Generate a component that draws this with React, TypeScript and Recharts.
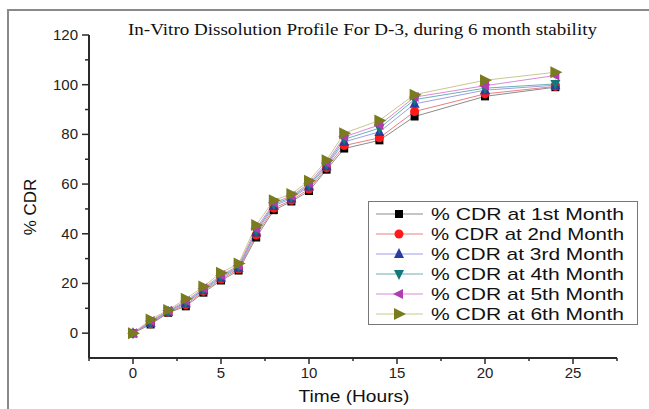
import React from 'react';
import { LineChart, Line, XAxis, YAxis, Label } from 'recharts';

const hours = [0, 1, 2, 3, 4, 5, 6, 7, 8, 9, 10, 11, 12, 14, 16, 20, 24];
const month1 = [0, 3.5, 8.2, 10.8, 16.3, 21.2, 25.2, 38.5, 49.5, 53, 57.2, 65.8, 74.3, 77.6, 87.2, 95.3, 99];
const month2 = [0, 3.8, 8.4, 11.4, 16.8, 21.8, 25.8, 39.5, 50.3, 53.5, 58, 66.5, 75.5, 78.6, 89.2, 96.3, 99.3];
const month3 = [0, 4.2, 8.6, 12, 17.3, 22.3, 26.3, 40.5, 51.2, 54.2, 59, 67.2, 77, 81, 92.3, 97.8, 99.8];
const month4 = [0, 4.5, 8.8, 12.4, 17.6, 22.8, 26.7, 41.2, 51.8, 54.7, 59.6, 67.8, 78, 82.5, 94, 98.6, 100.3];
const month5 = [0, 4.9, 9, 12.9, 18.1, 23.3, 27.2, 42, 52.5, 55.2, 60.3, 68.5, 79, 83.8, 95, 99.6, 103.7];
const month6 = [0, 5.5, 9.3, 13.8, 18.8, 24.3, 28, 43.5, 53.5, 56, 61.3, 69.6, 80.5, 85.6, 96, 101.8, 105];

const xTicks = [-2.5, 0, 2.5, 5, 7.5, 10, 12.5, 15, 17.5, 20, 22.5, 25, 27.5];
const yTicks = [0, 10, 20, 30, 40, 50, 60, 70, 80, 90, 100, 110, 120];

const series = [
  { key: 'm1', name: '% CDR at 1st Month', values: month1, line: '#8c8c8c', fill: '#000000', shape: 'square' },
  { key: 'm2', name: '% CDR at 2nd Month', values: month2, line: '#e98080', fill: '#ff1a1a', shape: 'circle' },
  { key: 'm3', name: '% CDR at 3rd Month', values: month3, line: '#9aa0e8', fill: '#2e3b9e', shape: 'up' },
  { key: 'm4', name: '% CDR at 4th Month', values: month4, line: '#6fb0b0', fill: '#127878', shape: 'down' },
  { key: 'm5', name: '% CDR at 5th Month', values: month5, line: '#d98ad9', fill: '#b03cb0', shape: 'left' },
  { key: 'm6', name: '% CDR at 6th Month', values: month6, line: '#c8c890', fill: '#7a7a1e', shape: 'right' },
];

const data = hours.map((h, i) => {
  const row: Record<string, number> = { t: h };
  series.forEach((s) => (row[s.key] = s.values[i]));
  return row;
});

const AXIS = '#2a2a2a';
const SANS = 'Liberation Sans, Arial, sans-serif';

function Marker({ cx, cy, shape, fill }: { cx: number; cy: number; shape: string; fill: string }) {
  if (cx == null || cy == null) return null;
  const s = 5;
  if (shape === 'square') return <rect x={cx - 4} y={cy - 4} width={8} height={8} fill={fill} />;
  if (shape === 'circle') return <circle cx={cx} cy={cy} r={4.5} fill={fill} />;
  if (shape === 'up') return <polygon points={`${cx},${cy - s - 1} ${cx - s},${cy + s - 1} ${cx + s},${cy + s - 1}`} fill={fill} />;
  if (shape === 'down') return <polygon points={`${cx},${cy + s + 1} ${cx - s},${cy - s + 1} ${cx + s},${cy - s + 1}`} fill={fill} />;
  if (shape === 'left') return <polygon points={`${cx - s - 1},${cy} ${cx + s - 1},${cy - s} ${cx + s - 1},${cy + s}`} fill={fill} />;
  const b = 6;
  return <polygon points={`${cx + b + 1},${cy} ${cx - b + 1},${cy - b} ${cx - b + 1},${cy + b}`} fill={fill} />;
}

function YTick(props: any) {
  const { x, y, payload } = props;
  const major = payload.value % 20 === 0;
  return (
    <g>
      <line x1={x - (major ? 7 : 4)} x2={x} y1={y} y2={y} stroke={AXIS} strokeWidth={1.5} />
      {major && (
        <text x={x - 11} y={y + 5} textAnchor="end" fontSize={15} fontFamily={SANS} fill="#222">
          {payload.value}
        </text>
      )}
    </g>
  );
}

function XTick(props: any) {
  const { x, y, payload } = props;
  const major = payload.value % 5 === 0;
  return (
    <g>
      <line x1={x} x2={x} y1={y} y2={y + (major ? 6 : 3)} stroke={AXIS} strokeWidth={1.5} />
      {major && (
        <text x={x} y={y + 20} textAnchor="middle" fontSize={15} fontFamily={SANS} fill="#222">
          {payload.value}
        </text>
      )}
    </g>
  );
}

function LegendBox() {
  return (
    <svg width={270} height={124} style={{ display: 'block', border: '1px solid #777', boxSizing: 'border-box', background: '#fff' }}>
      {series.map((s, i) => {
        const cy = 12 + i * 20;
        return (
          <g key={s.key}>
            <line x1={7} x2={54} y1={cy} y2={cy} stroke={s.line} strokeWidth={1} />
            <Marker cx={30} cy={cy} shape={s.shape} fill={s.fill} />
            <text x={62} y={cy + 6} fontSize={17} fontFamily={SANS} fill="#111" textLength={193} lengthAdjust="spacingAndGlyphs">
              {s.name}
            </text>
          </g>
        );
      })}
    </svg>
  );
}

export default function App() {
  return (
    <div style={{ position: 'absolute', left: 0, top: 0, width: 649, height: 409, background: '#fff', overflow: 'hidden' }}>
      <div style={{ position: 'absolute', left: 7, top: 9, width: 700, height: 500, borderTop: '2px solid #8a8a8a', borderLeft: '2px solid #8a8a8a' }} />
      <svg width={649} height={409} style={{ position: 'absolute', left: 0, top: 0 }}>
        <text x={128} y={35} fontSize={16.5} fontFamily="Liberation Serif, Times New Roman, serif" fill="#111" textLength={469} lengthAdjust="spacingAndGlyphs">
          In-Vitro Dissolution Profile For D-3, during 6 month stability
        </text>
      </svg>
      <div style={{ position: 'absolute', left: 0, top: 0 }}>
        <LineChart width={649} height={409} data={data} margin={{ top: 35, right: 32, bottom: 0, left: 0 }}>
          <XAxis
            dataKey="t"
            type="number"
            domain={[-2.5, 27.5]}
            ticks={xTicks}
            interval={0}
            height={51}
            tickLine={false}
            tickSize={0}
            tickMargin={0}
            tick={<XTick />}
            axisLine={{ stroke: AXIS, strokeWidth: 2 }}
            allowDataOverflow
          >
            <Label
              content={() => (
                <text x={354} y={402} textAnchor="middle" fontSize={17} fontFamily={SANS} fill="#111" textLength={111} lengthAdjust="spacingAndGlyphs">
                  Time (Hours)
                </text>
              )}
            />
          </XAxis>
          <YAxis
            type="number"
            domain={[-10, 120]}
            ticks={yTicks}
            interval={0}
            width={89}
            tickLine={false}
            tickSize={0}
            tickMargin={0}
            tick={<YTick />}
            axisLine={{ stroke: AXIS, strokeWidth: 2 }}
            allowDataOverflow
          >
            <Label
              content={() => (
                <text x={36} y={207} transform="rotate(-90 36 207)" textAnchor="middle" fontSize={17} fontFamily={SANS} fill="#111">
                  % CDR
                </text>
              )}
            />
          </YAxis>
          {series.map((s) => (
            <Line
              key={s.key}
              dataKey={s.key}
              name={s.name}
              stroke={s.line}
              strokeWidth={1}
              isAnimationActive={false}
              dot={(p: any) => <Marker key={`${s.key}-${p.index}`} cx={p.cx} cy={p.cy} shape={s.shape} fill={s.fill} />}
              activeDot={false}
            />
          ))}
        </LineChart>
      </div>
      <div style={{ position: 'absolute', left: 368, top: 201 }}>
        <LegendBox />
      </div>
    </div>
  );
}
